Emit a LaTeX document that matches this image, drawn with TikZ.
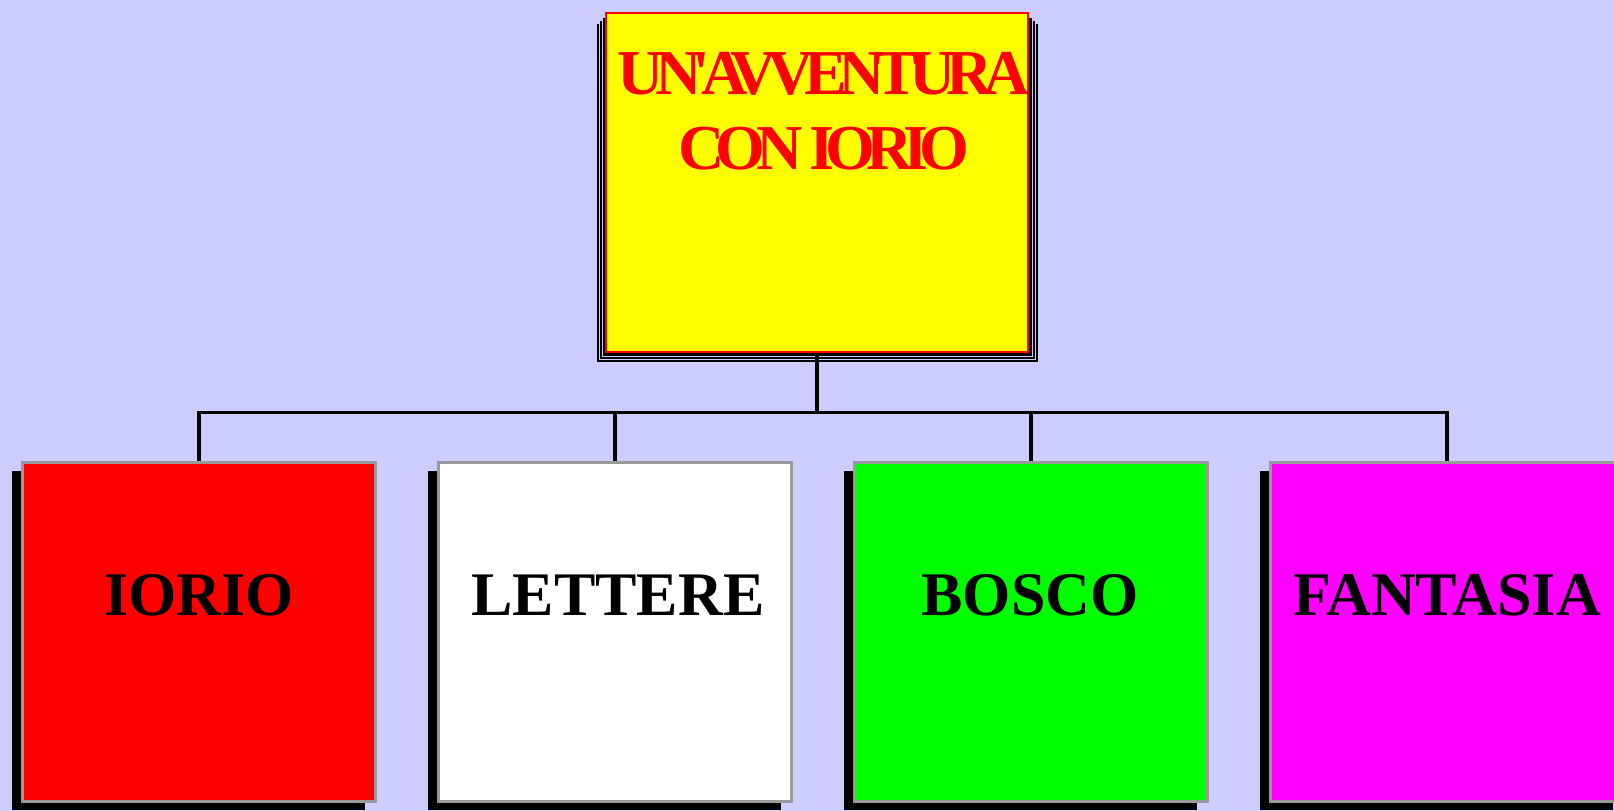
\documentclass[tikz,border=0pt]{standalone}
\usepackage{fontspec}
\setmainfont{Liberation Serif}
\newfontfamily\tightserif[LetterSpace=-14]{Liberation Serif}
\usetikzlibrary{shadows}
\definecolor{bg}{HTML}{CCCCFF}
\definecolor{boxgrey}{HTML}{999999}
\definecolor{pureyellow}{HTML}{FFFF00}
\definecolor{purered}{HTML}{FF0000}
\definecolor{puregreen}{HTML}{00FF00}
\definecolor{puremagenta}{HTML}{FF00FF}
\begin{document}
\begin{tikzpicture}[x=1pt, y=1pt,
	top/.style={draw=purered, line width=1.5pt, fill=pureyellow, minimum width=422, minimum height=339, inner sep=0},
	kid/.style={draw=boxgrey, line width=3pt, minimum width=353, minimum height=339, inner sep=0,
		drop shadow={shadow xshift=-11pt, shadow yshift=-8pt, fill=black, opacity=1}},
	lbl/.style={font=\fontsize{62}{70}\selectfont\bfseries},
	conn/.style={line width=3.2pt}]
			\fill[bg] (0,0) rectangle (1614,-811);
			\useasboundingbox (0,0) rectangle (1614,-811);
			\clip (0,0) rectangle (1614,-811);
			
			% stacked pages behind the title box
			\foreach \d in {10,7,4}
				\filldraw[fill=black, draw=bg, line width=0.8pt] ({606-\d},{-13-\d}) rectangle ({1028+\d},{-352-\d});
			\node[top] (t1) at (817,-182.5) {};
			\node[anchor=north, inner sep=0, align=center, text=purered, font=\tightserif\bfseries\fontsize{64}{75}\selectfont] (t2) at (824,-52) {UN'AVVENTURA\\CON IORIO};
			
			\node[kid, fill=purered] (k1) at (199,-632) {};
			\node[kid, fill=white] (k2) at (615,-632) {};
			\node[kid, fill=puregreen] (k3) at (1031,-632) {};
			\node[kid, fill=puremagenta] (k4) at (1447,-632) {};
			
			\node[lbl] (l1) at (199,-595) {IORIO};
			\node[lbl] (l2) at (618,-595) {LETTERE};
			\node[lbl] (l3) at (1030,-595) {BOSCO};
			\node[lbl] (l4) at (1447,-595) {FANTASIA};
			
			\coordinate (hub) at ([yshift=-60]t1.south);
			\draw[conn] (t1.south) -- (hub);
			\foreach \k in {k1,k2,k3,k4}
				\draw[conn] (hub) -| (\k.north);
			
\end{tikzpicture}
\end{document}
